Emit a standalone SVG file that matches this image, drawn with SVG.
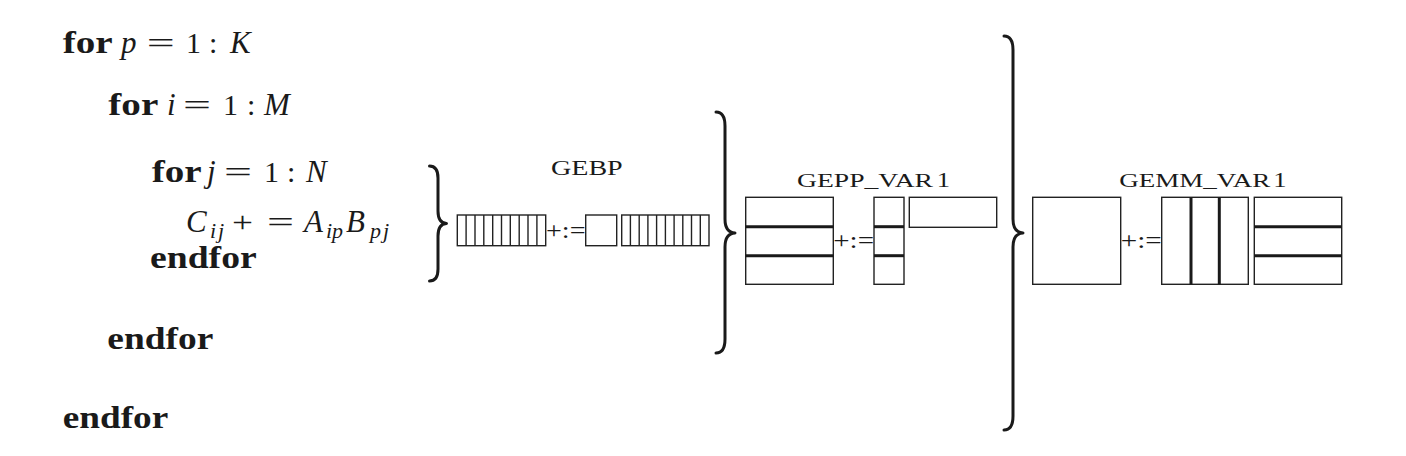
<svg xmlns="http://www.w3.org/2000/svg" width="1406" height="456" viewBox="0 0 1406 456">
<style>
.b{font-family:"Liberation Serif",serif;font-weight:bold;font-size:31px;fill:#1a1a1a}
.r{font-family:"Liberation Serif",serif;font-size:30px;fill:#1a1a1a}
.i{font-family:"Liberation Serif",serif;font-style:italic;font-size:31px;fill:#1a1a1a}
.s{font-family:"Liberation Serif",serif;font-style:italic;font-size:22px;fill:#1a1a1a}
.sc{font-family:"Liberation Serif",serif;font-size:19px;fill:#1a1a1a}
.op{font-family:"Liberation Serif",serif;font-size:24px;fill:#1a1a1a}
.box{fill:none;stroke:#222;stroke-width:1.4}
.thick{stroke:#1a1a1a;stroke-width:3}
.thin{stroke:#222;stroke-width:1.4}
.brace{fill:none;stroke:#1a1a1a;stroke-width:3;stroke-linecap:round;stroke-linejoin:round}
</style>

<g id="code">
  <text class="b" x="62.7" y="53" textLength="50" lengthAdjust="spacingAndGlyphs">for</text>
  <text class="i" x="121" y="53">p</text>
  <text class="r" x="146.7" y="53" textLength="28" lengthAdjust="spacingAndGlyphs">=</text>
  <text class="r" x="186" y="53">1</text>
  <text class="r" x="209" y="53">:</text>
  <text class="i" x="230" y="53">K</text>

  <text class="b" x="108.3" y="115" textLength="50" lengthAdjust="spacingAndGlyphs">for</text>
  <text class="i" x="167" y="115">i</text>
  <text class="r" x="183" y="115" textLength="28" lengthAdjust="spacingAndGlyphs">=</text>
  <text class="r" x="223" y="115">1</text>
  <text class="r" x="247" y="115">:</text>
  <text class="i" x="264" y="115">M</text>

  <text class="b" x="151.7" y="182.3" textLength="50" lengthAdjust="spacingAndGlyphs">for</text>
  <text class="i" x="207" y="182.3">j</text>
  <text class="r" x="224" y="182.3" textLength="28" lengthAdjust="spacingAndGlyphs">=</text>
  <text class="r" x="264" y="182.3">1</text>
  <text class="r" x="287" y="182.3">:</text>
  <text class="i" x="306" y="182.3">N</text>

  <text class="i" x="186" y="231.7">C</text>
  <text class="s" x="210" y="237.5" style="letter-spacing:2px">ij</text>
  <text class="r" x="232" y="231.7" textLength="21" lengthAdjust="spacingAndGlyphs">+</text>
  <text class="r" x="267" y="231.7" textLength="27" lengthAdjust="spacingAndGlyphs">=</text>
  <text class="i" x="304" y="231.7">A</text>
  <text class="s" x="326" y="237.5">ip</text>
  <text class="i" x="346" y="231.7">B</text>
  <text class="s" x="370" y="237.5" style="letter-spacing:2px">pj</text>

  <text class="b" x="150" y="268.3" textLength="106.7" lengthAdjust="spacingAndGlyphs">endfor</text>
  <text class="b" x="107.3" y="349.3" textLength="106" lengthAdjust="spacingAndGlyphs">endfor</text>
  <text class="b" x="62.7" y="428.3" textLength="105.6" lengthAdjust="spacingAndGlyphs">endfor</text>
</g>

<g id="braces">
  <path class="brace" d="M429.5,166 Q438,166 438,178 L438,211 Q438,223 446.5,223.5 Q438,224 438,236 L438,269 Q438,281 429.5,281"/>
  <path class="brace" d="M716,112 Q725,112 725,126 L725,219 Q725,232.5 735,233 Q725,233.5 725,247 L725,339 Q725,353 716,353"/>
  <path class="brace" d="M1004,36 Q1013,36 1013,50 L1013,219 Q1013,232.5 1023,233 Q1013,233.5 1013,247 L1013,416 Q1013,430 1004,430"/>
</g>

<g id="gebp">
  <text class="sc" x="551" y="175" textLength="71.7" lengthAdjust="spacingAndGlyphs" style="font-size:21px">GEBP</text>
  <rect class="box" x="457.3" y="215" width="88.4" height="30.7"/>
  <g class="thin">
    <line x1="466.1" y1="215" x2="466.1" y2="245.7"/>
    <line x1="475" y1="215" x2="475" y2="245.7"/>
    <line x1="483.8" y1="215" x2="483.8" y2="245.7"/>
    <line x1="492.7" y1="215" x2="492.7" y2="245.7"/>
    <line x1="501.5" y1="215" x2="501.5" y2="245.7"/>
    <line x1="510.3" y1="215" x2="510.3" y2="245.7"/>
    <line x1="519.2" y1="215" x2="519.2" y2="245.7"/>
    <line x1="528" y1="215" x2="528" y2="245.7"/>
    <line x1="536.9" y1="215" x2="536.9" y2="245.7"/>
  </g>
  <text class="op" x="546" y="237.5" textLength="39.5" lengthAdjust="spacingAndGlyphs">+:=</text>
  <rect class="box" x="585.7" y="215" width="31" height="30.7"/>
  <rect class="box" x="621.7" y="215" width="87.3" height="30.7"/>
  <g class="thin">
    <line x1="630.4" y1="215" x2="630.4" y2="245.7"/>
    <line x1="639.2" y1="215" x2="639.2" y2="245.7"/>
    <line x1="647.9" y1="215" x2="647.9" y2="245.7"/>
    <line x1="656.6" y1="215" x2="656.6" y2="245.7"/>
    <line x1="665.4" y1="215" x2="665.4" y2="245.7"/>
    <line x1="674.1" y1="215" x2="674.1" y2="245.7"/>
    <line x1="682.8" y1="215" x2="682.8" y2="245.7"/>
    <line x1="691.5" y1="215" x2="691.5" y2="245.7"/>
    <line x1="700.3" y1="215" x2="700.3" y2="245.7"/>
  </g>
</g>

<g id="gepp">
  <text class="sc" x="797" y="186.7" textLength="136" lengthAdjust="spacingAndGlyphs">GEPP_VAR</text>
  <text class="r" x="936.7" y="186.7" style="font-size:22px" textLength="13.3" lengthAdjust="spacingAndGlyphs">1</text>
  <rect class="box" x="745.7" y="197.3" width="87.6" height="87"/>
  <line class="thick" x1="745.7" y1="226.7" x2="833.3" y2="226.7"/>
  <line class="thick" x1="745.7" y1="255.7" x2="833.3" y2="255.7"/>
  <text class="op" x="833.3" y="248" textLength="40.7" lengthAdjust="spacingAndGlyphs">+:=</text>
  <rect class="box" x="874" y="197.3" width="30" height="87"/>
  <line class="thick" x1="874" y1="226.7" x2="904" y2="226.7"/>
  <line class="thick" x1="874" y1="255.7" x2="904" y2="255.7"/>
  <rect class="box" x="909.3" y="197.3" width="87.4" height="30"/>
</g>

<g id="gemm">
  <text class="sc" x="1119.3" y="186.7" textLength="151" lengthAdjust="spacingAndGlyphs">GEMM_VAR</text>
  <text class="r" x="1273.3" y="186.7" style="font-size:22px" textLength="13.3" lengthAdjust="spacingAndGlyphs">1</text>
  <rect class="box" x="1032.7" y="197.3" width="88" height="87"/>
  <text class="op" x="1120.7" y="248" textLength="41" lengthAdjust="spacingAndGlyphs">+:=</text>
  <rect class="box" x="1161.7" y="197.3" width="86.6" height="87"/>
  <line class="thick" x1="1191" y1="197.3" x2="1191" y2="284.3"/>
  <line class="thick" x1="1219.3" y1="197.3" x2="1219.3" y2="284.3"/>
  <rect class="box" x="1254.3" y="197.3" width="87.4" height="87"/>
  <line class="thick" x1="1254.3" y1="226.7" x2="1341.7" y2="226.7"/>
  <line class="thick" x1="1254.3" y1="255.7" x2="1341.7" y2="255.7"/>
</g>
</svg>
